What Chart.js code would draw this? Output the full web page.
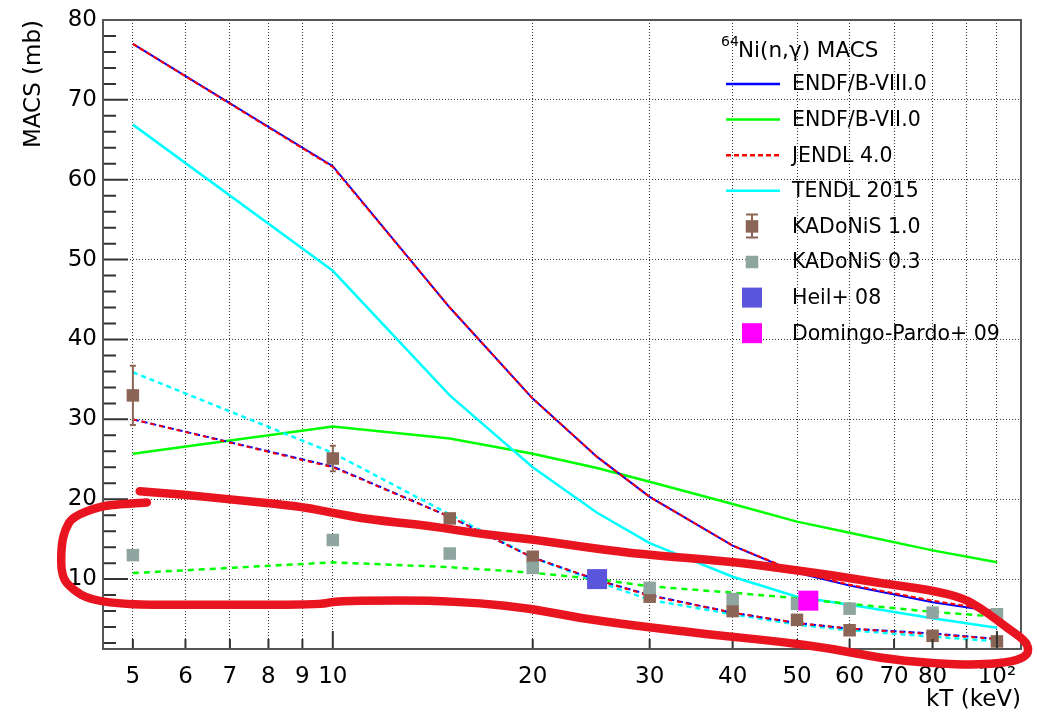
<!DOCTYPE html>
<html>
<head>
<meta charset="utf-8">
<script src="https://cdn.jsdelivr.net/npm/chart.js@4"></script>
<style>
html, body { margin: 0; padding: 0; background: #fff; }
</style>
</head>
<body>
<canvas id="macs" width="1037" height="721"></canvas>
<script>
/**** 64Ni(n,g) MACS vs kT ****/

var kT = [5, 10, 15, 20, 25, 30, 40, 50, 60, 80, 100];

// evaluated libraries (solid / dashed with legend entry)
var endf8 = [77.0, 61.7, 44.0, 32.6, 25.3, 20.3, 14.2, 10.8, 9.2, 7.1, 5.9];
var jendl = [77.0, 61.6, 44.0, 32.6, 25.3, 20.3, 14.2, 10.9, 9.3, 7.3, 6.0];
var endf7 = [25.7, 29.1, 27.6, 25.7, 23.9, 22.2, 19.4, 17.2, 15.8, 13.6, 12.1];
var tendl = [66.9, 48.6, 33.0, 24.0, 18.3, 14.5, 10.3, 7.8, 6.8, 5.1, 3.9];

// the dashed curves lower down (no legend entry)
var endf8Low = [30.0, 24.1, 17.8, 12.7, 9.9, 8.0, 5.8, 4.5, 3.8, 3.2, 2.5];
var jendlLow = [30.0, 24.0, 17.8, 12.7, 9.9, 7.9, 5.8, 4.5, 3.8, 3.1, 2.5];
var tendlLow = [35.9, 25.8, 18.1, 12.7, 9.7, 7.4, 5.6, 4.3, 3.6, 2.8, 2.2];
var endf7Low = [10.75, 12.1, 11.5, 10.8, 10.0, 9.1, 8.3, 7.6, 6.9, 5.9, 5.3];

// compilations / measurements
var kad10 = [33.0, 25.1, 17.6, 12.8, null, 7.8, 6.0, 4.9, 3.6, 2.9, 2.2];
var kad10Err = [3.7, 1.6, 0.5, 0.5, null, 0.4, 0.4, 0.4, 0.3, 0.2, 0.2];
var kad03 = [13.0, 14.9, 13.2, 11.4, null, 8.9, 7.5, 6.9, 6.3, 5.8, 5.6];
var heilKT = [25];
var heil = [10.0];
var domKT = [52];
var dom = [7.3];

var xTicks = [5, 6, 7, 8, 9, 10, 20, 30, 40, 50, 60, 70, 80, 90, 100];
var xLabels = ['5', '6', '7', '8', '9', '10', '20', '30', '40', '50', '60', '70', '80', '', '10\u00b2'];
var yTicks = [2, 4, 6, 8, 10, 12, 14, 16, 18, 20, 22, 24, 26, 28, 30, 32, 34, 36, 38, 40,
              42, 44, 46, 48, 50, 52, 54, 56, 58, 60, 62, 64, 66, 68, 70, 72, 74, 76, 78, 80];

// hand drawn red loop on top of the plot (kT, MACS)
var ringKT = [5.25, 4.78, 4.46, 4.06, 3.95, 3.90, 3.90, 4.06, 4.31, 4.95, 6.31, 9.56, 10.0, 11.37, 14.0,
              16.66, 19.8, 23.6, 28.0, 34.5, 39.7, 47.1, 56.1, 66.7, 79.3, 94.3, 105.8, 111.4, 111.4,
              108.3, 104.6, 100, 94.3, 88.9, 79.3, 66.7, 56.1, 47.1, 39.7, 34.5, 28.0, 23.6, 19.8,
              16.66, 14.0, 11.37, 10.0, 8.92, 7.07, 5.95, 5.12];
var ringMACS = [19.6, 19.4, 19.1, 17.85, 16.2, 14.1, 10.3, 8.66, 7.4, 6.78, 6.78, 6.78, 7.19, 7.31, 7.31,
                6.99, 6.36, 5.1, 4.27, 3.35, 2.80, 2.17, 1.34, 0.09, -0.54, -0.75, -0.34, 0.5, 1.76,
                2.80, 3.64, 4.89, 6.4, 7.62, 8.66, 9.5, 10.54, 11.38, 12.21, 12.6, 13.26, 14.09, 15.02,
                15.65, 16.69, 17.44, 18.3, 19.11, 19.95, 20.58, 20.99];

var FONT = "'DejaVu Sans', sans-serif";

function pts(xs, ys) {
    return xs.map(function(x, i) { return { x: x, y: ys[i] }; });
}

function lineSet(label, ys, color, dash, width, order, legendRank) {
    return {
        label: label,
        data: pts(kT, ys),
        showLine: true,
        borderColor: color,
        backgroundColor: color,
        borderWidth: width,
        borderDash: dash,
        pointRadius: 0,
        order: order,
        legendRank: legendRank
    };
}

function markerSet(label, xs, ys, color, side, order, legendRank) {
    return {
        label: label,
        data: pts(xs, ys),
        showLine: false,
        pointStyle: 'rect',
        pointRadius: side / Math.SQRT2,
        borderWidth: 0,
        backgroundColor: color,
        borderColor: color,
        order: order,
        legendRank: legendRank,
        markerSide: side
    };
}

var datasets = [
    lineSet('ENDF/B-VIII.0', endf8, '#0000ff', [], 2, 5, 1),
    lineSet('JENDL 4.0', jendl, '#ff0000', [5, 3], 2, 4, 3),
    lineSet('ENDF/B-VII.0', endf7, '#00ff00', [], 2.5, 11, 2),
    lineSet('TENDL 2015', tendl, '#00ffff', [], 2.5, 10, 4),
    lineSet('ENDF/B-VIII.0 (low)', endf8Low, '#0000ff', [6, 3], 2, 7, null),
    lineSet('JENDL 4.0 (low)', jendlLow, '#ff0000', [4, 5], 2, 6, null),
    lineSet('TENDL 2015 (low)', tendlLow, '#00ffff', [5, 4], 2.5, 8, null),
    lineSet('ENDF/B-VII.0 (low)', endf7Low, '#00ff00', [6, 5], 2.5, 9, null),
    markerSet('KADoNiS 1.0', kT, kad10, '#8b6556', 12.5, 3, 5),
    markerSet('KADoNiS 0.3', kT, kad03, '#8fa59f', 12.5, 2, 6),
    markerSet('Heil+ 08', heilKT, heil, '#5b55dc', 20, 1, 7),
    markerSet('Domingo-Pardo+ 09', domKT, dom, '#ff00ff', 20, 0, 8)
];
datasets[8].errors = kad10Err;

// error bars on KADoNiS 1.0
var errorBars = {
    id: 'errorBars',
    afterDatasetDraw: function(chart, args) {
        var ds = chart.data.datasets[args.index];
        if (!ds.errors) return;
        var ctx = chart.ctx, ys = chart.scales.y, xs = chart.scales.x;
        ctx.save();
        ctx.strokeStyle = ds.backgroundColor;
        ctx.lineWidth = 2;
        ds.data.forEach(function(p, i) {
            var e = ds.errors[i];
            if (p.y === null || !e) return;
            var px = xs.getPixelForValue(p.x);
            var top = ys.getPixelForValue(p.y + e), bot = ys.getPixelForValue(p.y - e);
            ctx.beginPath();
            ctx.moveTo(px, top); ctx.lineTo(px, bot);
            ctx.moveTo(px - 3, top); ctx.lineTo(px + 3, top);
            ctx.moveTo(px - 3, bot); ctx.lineTo(px + 3, bot);
            ctx.stroke();
        });
        ctx.restore();
    }
};

// ROOT style frame and inner ticks
var frameTicks = {
    id: 'frameTicks',
    afterDatasetsDraw: function(chart) {
        var ctx = chart.ctx, a = chart.chartArea;
        var xs = chart.scales.x, ys = chart.scales.y;
        ctx.save();
        ctx.strokeStyle = '#333';
        ctx.lineWidth = 2;
        ctx.beginPath();
        xTicks.forEach(function(v) {
            var px = xs.getPixelForValue(v);
            var len = (v === 10 || v === 100) ? 18 : 10;
            ctx.moveTo(px, a.bottom); ctx.lineTo(px, a.bottom - len);
        });
        yTicks.forEach(function(v) {
            var py = ys.getPixelForValue(v);
            var len = (v % 10 === 0) ? 25 : 13;
            ctx.moveTo(a.left, py); ctx.lineTo(a.left + len, py);
        });
        ctx.stroke();
        ctx.strokeStyle = '#555';
        ctx.strokeRect(a.left, a.top, a.right - a.left, a.bottom - a.top);
        ctx.restore();
    }
};

// legend inside the frame, top right
var boxLegend = {
    id: 'boxLegend',
    afterDraw: function(chart) {
        var ctx = chart.ctx;
        var x0 = 726, x1 = 780, tx = 792, mx = 752;
        var rowY = 84, step = 35.6;
        ctx.save();
        ctx.fillStyle = '#000';
        ctx.textBaseline = 'alphabetic';
        ctx.font = '14px ' + FONT;
        ctx.fillText('64', 721, 46);
        ctx.font = '21.5px ' + FONT;
        ctx.fillText('Ni(n,\u03b3) MACS', 738, 57);
        ctx.textBaseline = 'middle';
        var items = chart.data.datasets.filter(function(d) { return d.legendRank; })
            .sort(function(a, b) { return a.legendRank - b.legendRank; });
        items.forEach(function(d, i) {
            var y = rowY + i * step;
            if (d.showLine) {
                ctx.strokeStyle = d.borderColor;
                ctx.lineWidth = 2.5;
                ctx.setLineDash(d.borderDash);
                ctx.beginPath();
                ctx.moveTo(x0, y); ctx.lineTo(x1, y);
                ctx.stroke();
                ctx.setLineDash([]);
            } else {
                var s = d.markerSide;
                if (d.errors) {
                    ctx.strokeStyle = d.backgroundColor;
                    ctx.lineWidth = 2;
                    ctx.beginPath();
                    ctx.moveTo(mx, y - 12); ctx.lineTo(mx, y + 11);
                    ctx.moveTo(mx - 6, y - 12); ctx.lineTo(mx + 6, y - 12);
                    ctx.moveTo(mx - 6, y + 11); ctx.lineTo(mx + 6, y + 11);
                    ctx.stroke();
                }
                ctx.fillStyle = d.backgroundColor;
                ctx.fillRect(mx - s / 2, y - s / 2, s, s);
            }
            ctx.fillStyle = '#000';
            ctx.font = '20.5px ' + FONT;
            ctx.fillText(d.label, tx, y + 1);
        });
        ctx.restore();
    }
};

// the red marker loop
var redLoop = {
    id: 'redLoop',
    afterDraw: function(chart) {
        var ctx = chart.ctx, xs = chart.scales.x, ys = chart.scales.y;
        var p = ringKT.map(function(k, i) {
            return [xs.getPixelForValue(k), ys.getPixelForValue(ringMACS[i])];
        });
        ctx.save();
        ctx.strokeStyle = '#e8141f';
        ctx.lineWidth = 8.5;
        ctx.lineCap = 'round';
        ctx.lineJoin = 'round';
        ctx.beginPath();
        ctx.moveTo(p[0][0], p[0][1]);
        for (var i = 1; i < p.length - 1; i++) {
            var mx = (p[i][0] + p[i + 1][0]) / 2, my = (p[i][1] + p[i + 1][1]) / 2;
            ctx.quadraticCurveTo(p[i][0], p[i][1], mx, my);
        }
        ctx.lineTo(p[p.length - 1][0], p[p.length - 1][1]);
        ctx.stroke();
        ctx.restore();
    }
};

var gridDash = '#333';

new Chart(document.getElementById('macs'), {
    type: 'scatter',
    data: { datasets: datasets },
    plugins: [errorBars, frameTicks, boxLegend, redLoop],
    options: {
        responsive: false,
        animation: false,
        events: [],
        layout: { padding: { top: 20, right: 16, left: 0, bottom: 0 } },
        plugins: { legend: { display: false }, tooltip: { enabled: false } },
        scales: {
            x: {
                type: 'logarithmic',
                min: 4.508,
                max: 108.7,
                afterBuildTicks: function(s) { s.ticks = xTicks.map(function(v) { return { value: v }; }); },
                afterFit: function(s) { s.height = 72; },
                grid: { color: gridDash, lineWidth: 1, drawTicks: false },
                border: { display: false, dash: [1, 2] },
                ticks: {
                    autoSkip: false,
                    maxRotation: 0,
                    padding: 14,
                    color: '#000',
                    font: { family: FONT, size: 23 },
                    callback: function(v) { return xLabels[xTicks.indexOf(v)]; }
                },
                title: {
                    display: true,
                    text: 'kT (keV)',
                    align: 'end',
                    color: '#000',
                    padding: { top: 0, bottom: 7 },
                    font: { family: FONT, size: 23 }
                }
            },
            y: {
                type: 'linear',
                min: 1.25,
                max: 80,
                afterBuildTicks: function(s) { s.ticks = yTicks.map(function(v) { return { value: v }; }); },
                afterFit: function(s) { s.width = 103; },
                grid: {
                    drawTicks: false,
                    lineWidth: 1,
                    color: function(c) { return (c.tick && c.tick.value % 10 === 0) ? gridDash : 'rgba(0,0,0,0)'; }
                },
                border: { display: false, dash: [1, 2] },
                ticks: {
                    autoSkip: false,
                    padding: 6,
                    color: '#000',
                    font: { family: FONT, size: 23 },
                    callback: function(v) { return v % 10 === 0 ? String(v) : ''; }
                },
                title: {
                    display: true,
                    text: 'MACS (mb)',
                    align: 'end',
                    color: '#000',
                    padding: { top: 20, bottom: 0 },
                    font: { family: FONT, size: 23 }
                }
            }
        }
    }
});
</script>
</body>
</html>
